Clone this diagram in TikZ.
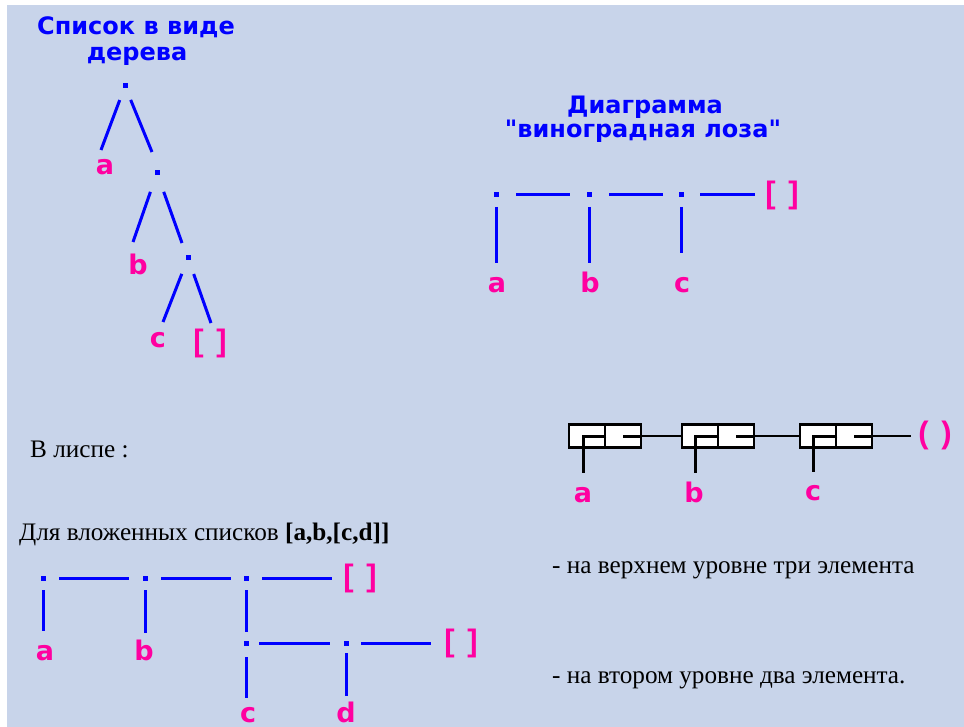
\documentclass[tikz,border=0pt]{standalone}
\usepackage{fontspec}
\setmainfont{Liberation Serif}
\newfontfamily\dejavu{DejaVu Sans}
\newfontfamily\libsans{Liberation Sans}
\definecolor{bg}{RGB}{200,212,234}
\definecolor{lblue}{RGB}{0,0,255}
\definecolor{mag}{RGB}{255,0,160}
\newcommand{\nilbr}{[\hspace{4pt} ]}
\newcommand{\nilpar}{(\hspace{4pt} )}
\begin{document}
\begin{tikzpicture}[x=1pt,y=-1pt,
  dotn/.style={fill=lblue, minimum size=5pt, inner sep=0pt, outer sep=0pt},
  bl/.style={draw=lblue, line width=3pt},
  lbl/.style={text=mag, font=\dejavu\bfseries\fontsize{27}{32}\selectfont, inner sep=0pt, anchor=base},
  nil/.style={text=mag, font=\libsans\bfseries\fontsize{31}{36}\selectfont, inner sep=0pt, anchor=center},
  ttl/.style={text=lblue, font=\dejavu\bfseries\fontsize{24}{28}\selectfont, inner sep=0pt, anchor=base},
  txt/.style={text=black, font=\fontsize{25.2}{30}\selectfont, inner sep=0pt, anchor=base west},
  cell/.style={draw=black, line width=2.5pt, fill=white, minimum width=36pt, minimum height=23pt, inner sep=0pt},
  ptr/.style={draw=black, line width=3pt},
  conn/.style={draw=black, line width=2pt}
]
\useasboundingbox (0,0) rectangle (964,727);
\fill[white] (0,0) rectangle (964,727);
\fill[bg] (7,5) rectangle (964,727);

% ---------- Titles ----------
\node[ttl] (t1a) at (136,35) {Список в виде};
\node[ttl] (t1b) at (137,61) {дерева};
\node[ttl] (t2a) at (645,114) {Диаграмма};
\node[ttl] (t2b) at (643,138) {"виноградная лоза"};

% ---------- Tree ----------
\node[dotn] (d1) at (125,86) {};
\node[dotn] (d2) at (157,173) {};
\node[dotn] (d3) at (188,258) {};
\coordinate (e1l) at (101,150);
\coordinate (e1r) at (152,152);
\coordinate (e2l) at (133,242);
\coordinate (e2r) at (182,243);
\coordinate (e3l) at (163,322);
\coordinate (e3r) at (211,323);
\draw[bl, shorten <=15pt] (d1.center) -- (e1l);
\draw[bl, shorten <=15pt] (d1.center) -- (e1r);
\draw[bl, shorten <=20pt] (d2.center) -- (e2l);
\draw[bl, shorten <=20pt] (d2.center) -- (e2r);
\draw[bl, shorten <=17pt] (d3.center) -- (e3l);
\draw[bl, shorten <=17pt] (d3.center) -- (e3r);
\node[lbl] (ta) at (105,175) {a};
\node[lbl] (tb) at (138,275) {b};
\node[lbl] (tc) at (158,348) {c};
\node[nil] (tnil) at (210,343) {\nilbr};

% ---------- Vine (top right) ----------
\node[dotn] (v1) at (496,195) {};
\node[dotn] (v2) at (589,195) {};
\node[dotn] (v3) at (681,195) {};
\coordinate (vend) at (755,195);
\coordinate (v1e) at (496,263);
\coordinate (v2e) at (589,263);
\coordinate (v3e) at (681,253);
\draw[bl, shorten <=20pt, shorten >=19pt] (v1.center) -- (v2.center);
\draw[bl, shorten <=20pt, shorten >=18pt] (v2.center) -- (v3.center);
\draw[bl, shorten <=19pt] (v3.center) -- (vend);
\draw[bl, shorten <=12pt] (v1.center) -- (v1e);
\draw[bl, shorten <=12pt] (v2.center) -- (v2e);
\draw[bl, shorten <=12pt] (v3.center) -- (v3e);
\node[nil] (vnil) at (782,195) {\nilbr};
\node[lbl] (va) at (497,293) {a};
\node[lbl] (vb) at (590,293) {b};
\node[lbl] (vc) at (682,293) {c};

% ---------- Cons cells ----------
\node[cell] (b1l) at (587,436) {};
\node[cell] (b1r) at (623,436) {};
\node[cell] (b2l) at (700,436) {};
\node[cell] (b2r) at (736,436) {};
\node[cell] (b3l) at (818,436) {};
\node[cell] (b3r) at (854,436) {};
\coordinate (p1) at (583,473);
\coordinate (p2) at (695,473);
\coordinate (p3) at (813,472);
\coordinate (bend) at (911,436);
\draw[ptr] (b1l.east) -| (p1);
\draw[ptr] (b2l.east) -| (p2);
\draw[ptr] (b3l.east) -| (p3);
\draw[ptr] (b1r.center) -- (b1r.east);
\draw[ptr] (b2r.center) -- (b2r.east);
\draw[ptr] (b3r.center) -- (b3r.east);
\draw[conn] (b1r.east) -- (b2l.west);
\draw[conn] (b2r.east) -- (b3l.west);
\draw[conn] (b3r.east) -- (bend);
\node[nil] (bnil) at (935,435) {\nilpar};
\node[lbl] (ba) at (583,502) {a};
\node[lbl] (bb) at (694,502) {b};
\node[lbl] (bc) at (813,500) {c};

% ---------- Texts ----------
\node[txt] (lisp) at (30,457) {В лиспе :};
\node[txt] (nested) at (19,540) {Для вложенных списков \textbf{[a,b,[c,d]]}};
\node[txt] (lvl1) at (552,573) {- на верхнем уровне три элемента};
\node[txt] (lvl2) at (552,683) {- на втором уровне два элемента.};

% ---------- Nested vine (bottom left) ----------
\node[dotn] (w1) at (43,578) {};
\node[dotn] (w2) at (145,578) {};
\node[dotn] (w3) at (246,578) {};
\node[dotn] (w4) at (246,643) {};
\node[dotn] (w5) at (346,643) {};
\coordinate (wend) at (332,578);
\coordinate (wend2) at (431,643);
\coordinate (w1e) at (43,631);
\coordinate (w2e) at (145,633);
\coordinate (w4e) at (246,698);
\coordinate (w5e) at (346,696);
\draw[bl, shorten <=16pt, shorten >=16pt] (w1.center) -- (w2.center);
\draw[bl, shorten <=16pt, shorten >=15pt] (w2.center) -- (w3.center);
\draw[bl, shorten <=16pt] (w3.center) -- (wend);
\draw[bl, shorten <=12pt] (w1.center) -- (w1e);
\draw[bl, shorten <=12pt] (w2.center) -- (w2e);
\draw[bl, shorten <=12pt, shorten >=11pt] (w3.center) -- (w4.center);
\draw[bl, shorten <=13pt, shorten >=16pt] (w4.center) -- (w5.center);
\draw[bl, shorten <=15pt] (w5.center) -- (wend2);
\draw[bl, shorten <=14pt] (w4.center) -- (w4e);
\draw[bl, shorten <=10pt] (w5.center) -- (w5e);
\node[nil] (wnil) at (360,578) {\nilbr};
\node[nil] (wnil2) at (461,643) {\nilbr};
\node[lbl] (wa) at (45,660) {a};
\node[lbl] (wb) at (144,660) {b};
\node[lbl] (wc) at (248,722) {c};
\node[lbl] (wd) at (346,722) {d};
\end{tikzpicture}
\end{document}
